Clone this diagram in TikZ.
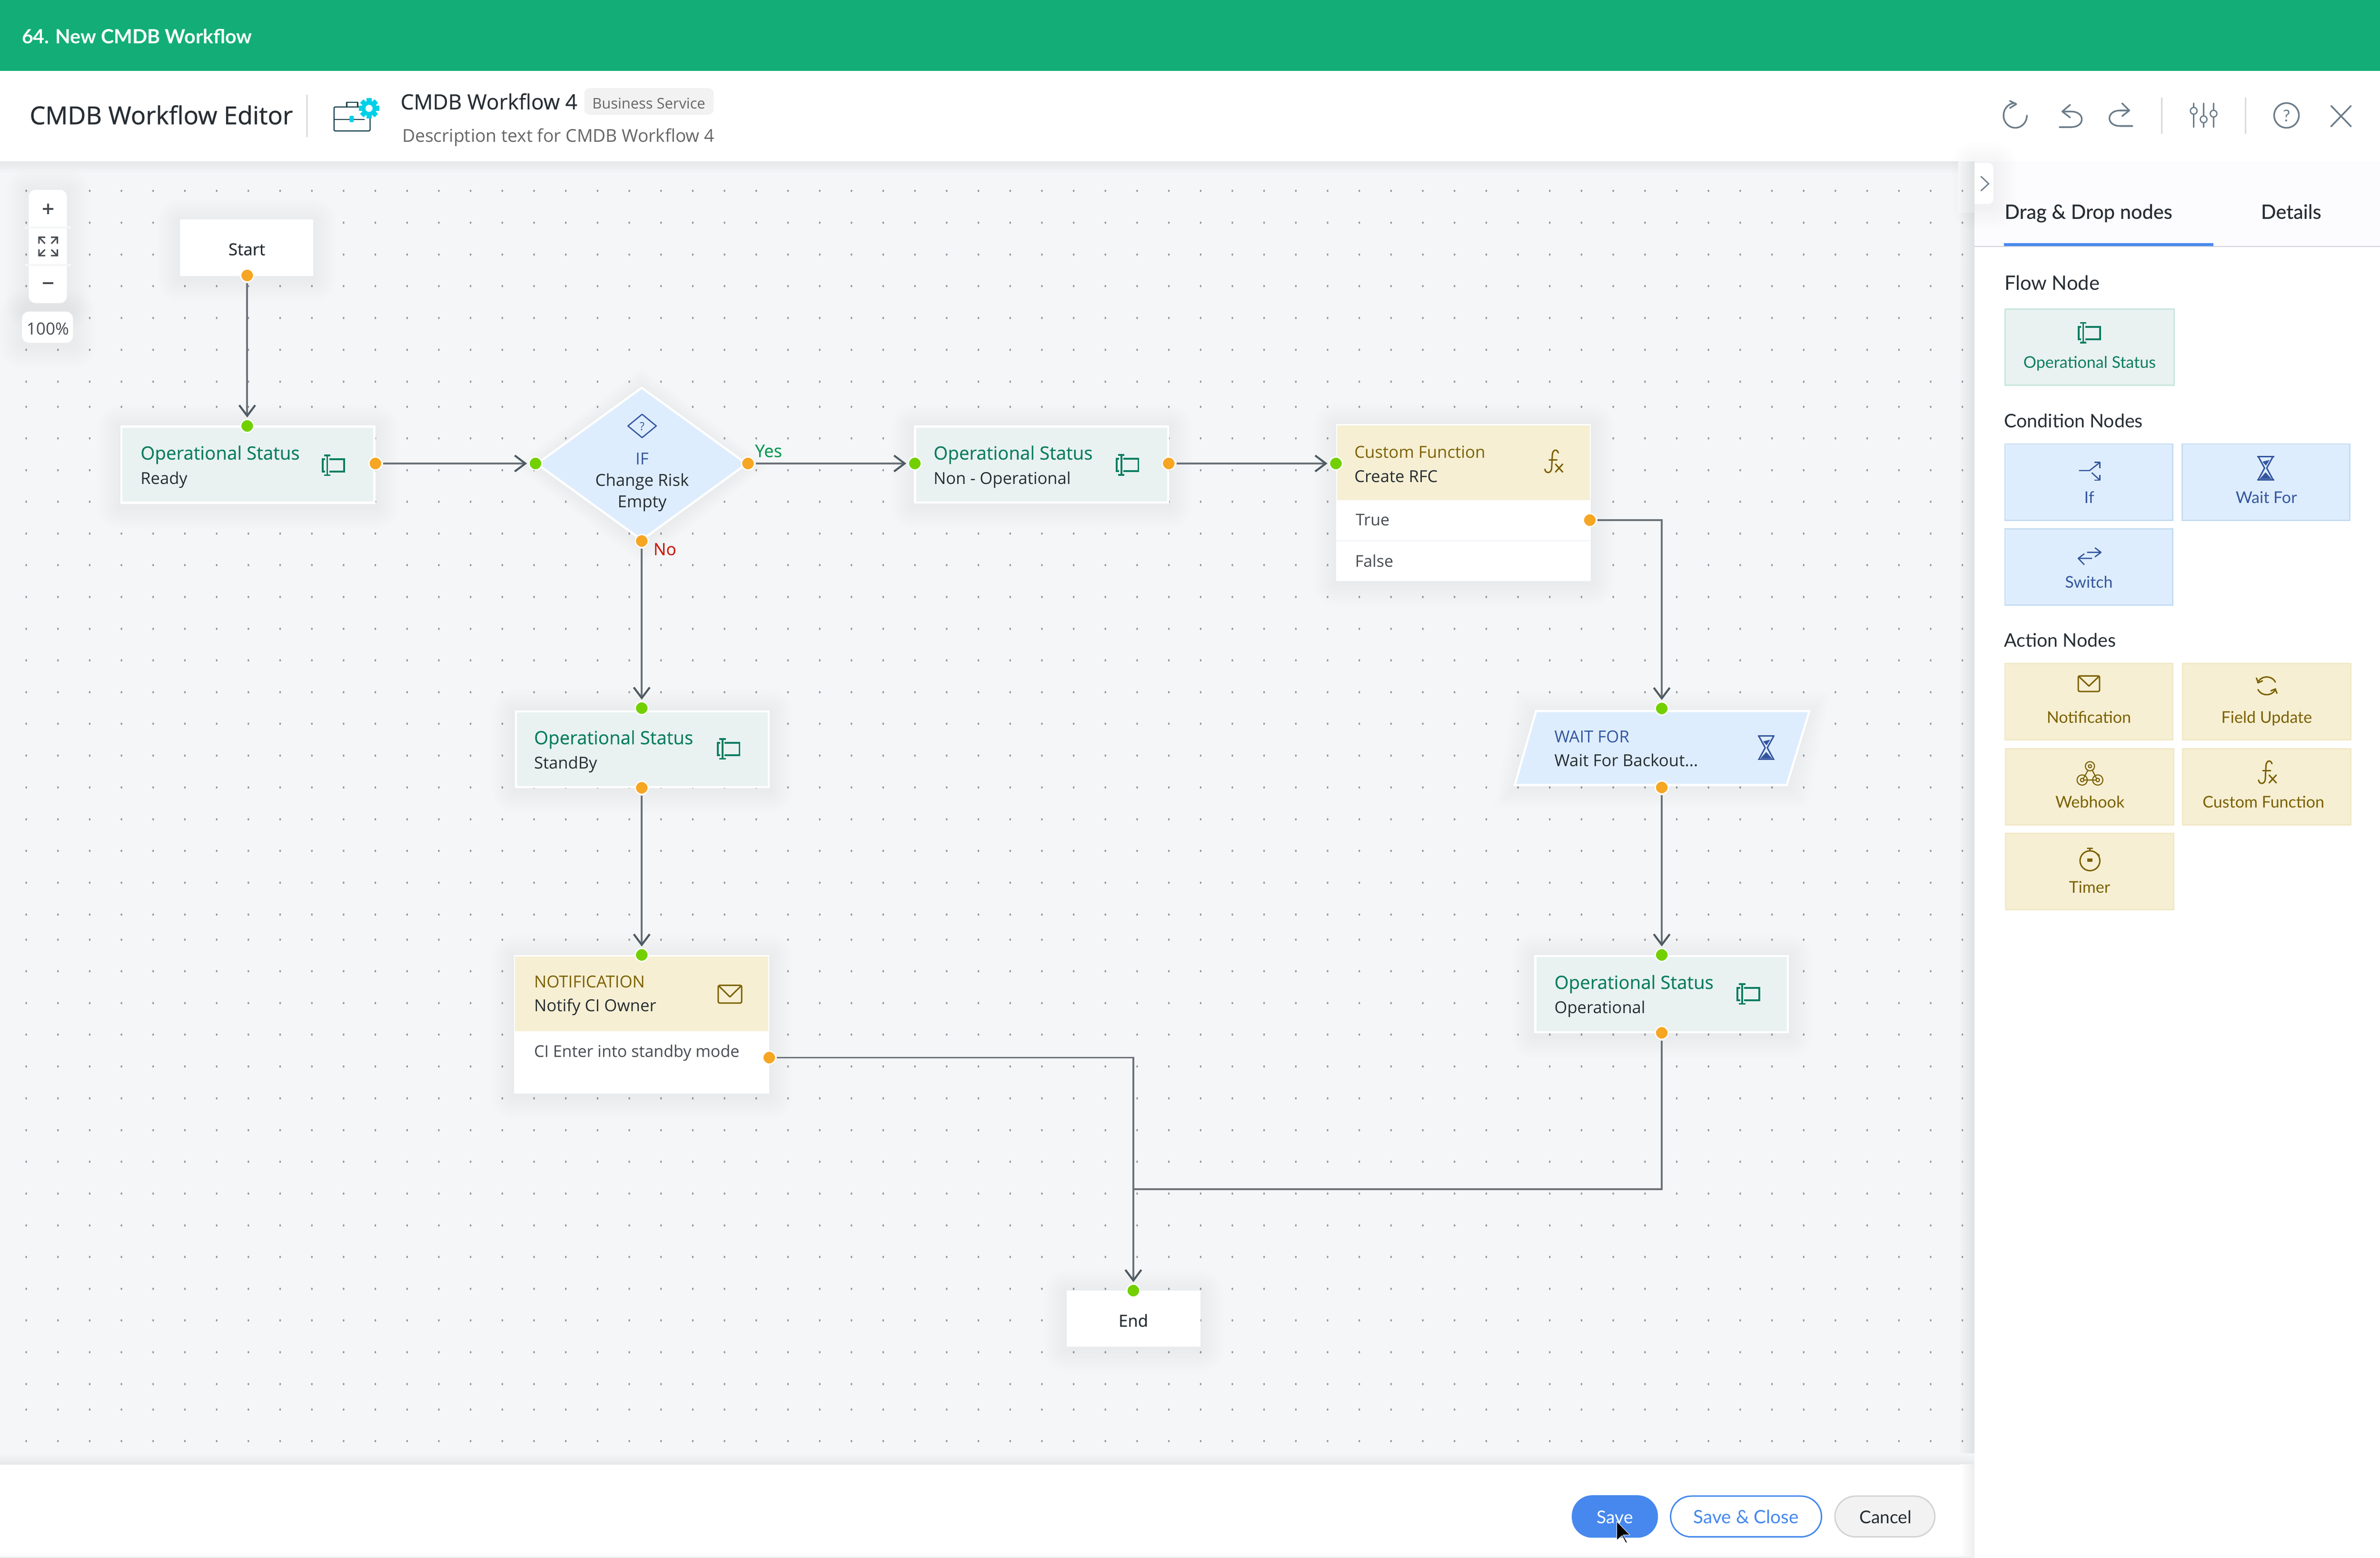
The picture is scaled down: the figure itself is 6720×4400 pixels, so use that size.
\documentclass[tikz,border=0pt]{standalone}
\usepackage{fontspec}
\usetikzlibrary{arrows.meta,shapes.geometric}
\setmainfont{Open Sans}
\newfontfamily\osr{Open Sans}
\newfontfamily\osm[FakeBold=0.3]{Open Sans}
\newfontfamily\oss[FakeBold=0.7]{Open Sans}
\newfontfamily\lat{Lato}
\newfontfamily\latm[FakeBold=0.35]{Lato}
\newcommand{\fsz}[1]{\fontsize{#1pt}{#1pt}\selectfont}
\definecolor{barc}{HTML}{13AE78}
\definecolor{canvasc}{HTML}{F4F6F8}
\definecolor{dotc}{HTML}{96999E}
\definecolor{ink}{HTML}{262D33}
\definecolor{teal}{HTML}{0B7D62}
\definecolor{opfill}{HTML}{E9F2F0}
\definecolor{opline}{HTML}{C9E6DF}
\definecolor{bluefill}{HTML}{DEEDFD}
\definecolor{blueline}{HTML}{C5DCF3}
\definecolor{bluetx}{HTML}{3456A0}
\definecolor{yelfill}{HTML}{F6EFD3}
\definecolor{yelline}{HTML}{F1E8C6}
\definecolor{yeltx}{HTML}{7B6100}
\definecolor{conc}{HTML}{6B7278}
\definecolor{arrc}{HTML}{4E5A62}
\definecolor{iconc}{HTML}{6A7B88}
\definecolor{gportc}{HTML}{72D000}
\definecolor{oportc}{HTML}{F6A623}
\definecolor{btnblue}{HTML}{4688EE}
\definecolor{cyanc}{HTML}{00D0E8}
\definecolor{caseline}{HTML}{0F3D4A}
\definecolor{yesc}{HTML}{0E9A55}
\definecolor{noc}{HTML}{CC1B0E}
\tikzset{
 lbl/.style={inner sep=0,outer sep=0,anchor=base west},
 ctr/.style={inner sep=0,outer sep=0,anchor=base},
 gport/.style={circle,fill=gportc,draw=white,line width=.035cm,minimum size=.365cm,inner sep=0},
 oport/.style={circle,fill=oportc,draw=white,line width=.035cm,minimum size=.365cm,inner sep=0},
 connline/.style={draw=conc,line width=.05cm,shorten <=.22cm},
 conn/.style={connline,shorten >=.24cm,-{Straight Barb[length=.3cm,width=.45cm,line width=.055cm,color=arrc]}},
 opbox/.style={rectangle,fill=opfill,draw=white,line width=.06cm,inner sep=0},
 plainbox/.style={rectangle,fill=white,inner sep=0},
 card/.style={rectangle,line width=.04cm,inner sep=0,minimum width=4.74cm,minimum height=2.15cm},
 bluecard/.style={card,fill=bluefill,draw=blueline},
 yelcard/.style={card,fill=yelfill,draw=yelline},
 hic/.style={draw=iconc,line width=.045cm,line cap=round,line join=round},
 pillbtn/.style={rectangle,rounded corners=.58cm,inner sep=0,minimum height=1.15cm}
}
\newcommand{\softsh}[4]{\foreach \r in {6,12,...,66}{\fill[black,opacity=.005,rounded corners=\r*0.01cm] ({#1-\r},{#2-\r+6}) rectangle ({#3+\r},{#4+\r+6});}}
\newcommand{\opicon}[3]{\begin{scope}[shift={(#1,#2)},draw=#3,line width=.05cm]
 \draw (-18,-28)--(-18,28) (-27,-28)--(-9,-28) (-27,28)--(-9,28);
 \draw (-12,-17)--(30,-17)--(30,18)--(-12,18);
 \draw (-24,-17)--(-31,-17)--(-31,18)--(-24,18);
\end{scope}}
\newcommand{\fxicon}[3]{\begin{scope}[shift={(#1,#2)},draw=#3,line width=.04cm,line cap=round]
 \draw (14,-24) .. controls (10,-36) and (-2,-34) .. (-3,-18) -- (-5,20) .. controls (-6,34) and (-22,36) .. (-24,22);
 \draw (-12,-4)--(10,-4);
 \draw (6,8)--(26,30) (26,8)--(6,30);
\end{scope}}
\newcommand{\envicon}[5]{\begin{scope}[shift={(#1,#2)},draw=#5,line width=.04cm,line join=round]
 \draw[rounded corners=.04cm] (-#3,-#4) rectangle (#3,#4);
 \draw (-#3,-#4)--(0,{#4*.3})--(#3,-#4);
\end{scope}}
\newcommand{\hourglass}[3]{\begin{scope}[shift={(#1,#2)},draw=#3,line width=.04cm,line join=round]
 \draw (-24,-33)--(24,-33) (-24,33)--(24,33);
 \draw (-21,-33)--(-3,0)--(-21,33) (21,-33)--(3,0)--(21,33);
 \fill[#3] (-9,-18)--(11,-23)--(1,-7)--cycle;
 \fill[#3] (0,12)--(17,31)--(-17,31)--cycle;
\end{scope}}
\begin{document}
\begin{tikzpicture}[x=0.01cm,y=-0.01cm,every node/.append style={text=ink}]
\useasboundingbox (0,0) rectangle (6720,4400);
\fill[white] (0,0) rectangle (6720,4400);
\fill[barc] (0,0) rectangle (6720,200);
% canvas
\fill[canvasc] (0,456) rectangle (5575,4136);
\shade[left color=canvasc,right color=black!9!canvasc] (5530,456) rectangle (5575,4136);
\shade[top color=black!6!canvasc,bottom color=canvasc] (0,456) rectangle (5575,490);
\shade[top color=canvasc,bottom color=black!6!canvasc] (0,4105) rectangle (5575,4136);
\fill[dotc] \foreach \i in {0,...,61}{\foreach \yy in {539,629,719,808,898,988,1078,1149,1238,1328,1417,1507,1596,1686,1776,1865,1955,2044,2134,2224,2314,2403,2493,2583,2654,2743,2833,2922,3012,3102,3192,3281,3371,3461,3550,3640,3729,3819,3909,3981,4070}{({74+89.62*\i},\yy) circle[x radius=.024cm,y radius=.034cm]}};
% panel
\fill[white] (5575,456) rectangle (6720,4400);
\fill[blue!1!white] (5575,456) rectangle (6720,696);
\shade[left color=white,right color=black!7!white] (5535,4136) rectangle (5575,4396);
\fill[black!6!white] (0,4396) rectangle (5575,4400);
\draw[blue!20!black!18!white,line width=.02cm] (5575,696)--(6720,696);
\fill[btnblue] (5658,687) rectangle (6250,695);
% panel toggle
\softsh{5575}{460}{5628}{576}
\fill[white,rounded corners=.15cm] (5540,460) rectangle (5628,576);
\shade[left color=canvasc,right color=black!9!canvasc] (5530,456) rectangle (5575,600);
\fill[dotc] ({74+89.62*61},539) circle[x radius=.024cm,y radius=.034cm];
\draw[iconc,line width=.035cm] (5593,498)--(5615,519)--(5593,539);
% header
\node[lbl,text=white] (title) at (62,123) {\lat\bfseries\fsz{15.7}64. New CMDB Workflow};
\node[lbl] (editor) at (84,351) {\oss\fsz{19.9}CMDB Workflow Editor};
\draw[black!20,line width=.03cm] (867,268)--(867,387);
\begin{scope}[draw=caseline,line width=.03cm,line join=round]
 \draw[rounded corners=.04cm] (943,302) rectangle (1045,370);
 \draw (979,302)--(979,289)--(1010,289)--(1010,302);
 \draw (943,337)--(1030,337);
 \fill[cyanc,rounded corners=.03cm] (987,327) rectangle (999,345);
\end{scope}
\fill[white] (1015,277) rectangle (1075,335);
\foreach \a in {0,45,...,315}{\fill[cyanc,rotate around={\a:(1042,306)}] (1035,277) rectangle (1049,290);}
\fill[cyanc] (1042,306) circle[radius=.21cm];
\fill[white] (1042,306) circle[radius=.10cm];
\node[lbl] (wfname) at (1131,309) {\osm\fsz{16.9}CMDB Workflow 4};
\node[rectangle,fill=black!5,rounded corners=.15cm,minimum width=3.65cm,minimum height=.75cm,inner sep=0] (badge) at (1832.5,286.5) {};
\node[ctr,text=black!60] (badgetx) at (1832,307) {\osr\fsz{11.8}Business Service};
\node[lbl,text=black!60] (desc) at (1136,401) {\osr\fsz{14.2}Description text for CMDB Workflow 4};
% header right icons
\draw[hic] plot[domain=0:268,samples=40] ({5690+33*cos(\x)},{326+35*sin(\x)});
\draw[hic] (5675,285)--(5693,294)--(5675,305);
\draw[hic] (5845,296)--(5823,315)--(5845,332);
\draw[hic] (5823,315)--(5848,315) .. controls (5888,315) and (5888,359) .. (5848,359) -- (5815,359);
\draw[hic] (5992,292)--(6012,312)--(5992,328);
\draw[hic] (6012,312)--(5986,312) .. controls (5946,312) and (5946,356) .. (5986,356) -- (6021,356);
\draw[blue!15!black!15!white,line width=.035cm] (6104,275)--(6104,377) (6340,275)--(6340,377);
\draw[hic] (6194,292)--(6194,303) (6194,323)--(6194,359) (6222,292)--(6222,327) (6222,347)--(6222,359) (6250,292)--(6250,311) (6250,331)--(6250,359);
\draw[hic,line width=.035cm] (6194,313) circle[radius=.095cm] (6222,337) circle[radius=.095cm] (6250,321) circle[radius=.095cm];
\draw[hic] (6456,326) circle[radius=.35cm];
\node[ctr,text=iconc] (helpq) at (6456,343) {\lat\fsz{13}?};
\draw[hic] (6582,299)--(6638,357) (6638,299)--(6582,357);
% zoom widget
\softsh{81}{536}{189}{856}
\softsh{62}{880}{206}{968}
\fill[white,rounded corners=.2cm] (81,536) rectangle (189,856);
\draw[canvasc,line width=.05cm] (70,642)--(200,642) (70,749)--(200,749);
\draw[ink!85,line width=.05cm] (121,590)--(151,590) (136,575)--(136,605) (121,800)--(151,800);
\begin{scope}[draw=ink!85,line width=.04cm]
 \draw (110,688)--(110,670)--(128,670) (110,670)--(127,688);
 \draw (162,688)--(162,670)--(144,670) (162,670)--(145,688);
 \draw (110,704)--(110,722)--(128,722) (110,722)--(127,705);
 \draw (162,704)--(162,722)--(144,722) (162,722)--(145,705);
\end{scope}
\node[rectangle,fill=white,rounded corners=.2cm,minimum width=1.44cm,minimum height=.88cm,inner sep=0] (zoompct) at (134,924) {};
\node[ctr,text=ink!85] (zoomtx) at (135,945) {\osr\fsz{13.4}100\%};
% --- flow nodes
\softsh{508}{620}{884}{780}
\node[plainbox,minimum width=3.76cm,minimum height=1.6cm] (start) at (696,700) {};
\node[ctr] (starttx) at (697,721) {\osm\fsz{13.3}Start};
\softsh{340}{1202}{1060}{1423}
\node[opbox,minimum width=7.14cm,minimum height=2.15cm] (ready) at (700,1312.5) {};
\node[lbl,text=teal] (readyt) at (397,1298) {\osm\fsz{14.7}Operational Status};
\node[lbl] (readys) at (397,1367) {\osr\fsz{13.2}Ready};
\opicon{942}{1314}{teal}
% diamond
\foreach \r in {6,12,...,60}{\fill[black,opacity=.005,line join=round] (1812,{1091-\r+6})--({2112+\r},{1310+6})--(1812,{1529+\r+6})--({1512-\r},{1310+6})--cycle;}
\node[diamond,aspect=1.37,fill=bluefill,draw=white,line width=.06cm,minimum width=5.94cm,minimum height=4.32cm,inner sep=0] (ifbox) at (1812,1310) {};
\draw[bluetx,line width=.035cm,line join=round] (1813,1170)--(1853,1203)--(1813,1236)--(1773,1203)--cycle;
\node[ctr,text=bluetx] (ifq) at (1813,1215) {\osr\fsz{9}?};
\node[ctr,text=bluetx] (ift) at (1813,1313) {\osr\fsz{13.3}IF};
\node[ctr] (ifa) at (1813,1373) {\osr\fsz{13.3}Change Risk};
\node[ctr] (ifb) at (1813,1433) {\osr\fsz{13.3}Empty};
\node[lbl,text=yesc] (yes) at (2132,1291) {\osm\fsz{14}Yes};
\node[lbl,text=noc] (no) at (1845,1568) {\osm\fsz{13.5}No};
% non-op
\softsh{2581}{1202}{3301}{1422}
\node[opbox,minimum width=7.14cm,minimum height=2.14cm] (nonop) at (2941,1312) {};
\node[lbl,text=teal] (nonopt) at (2636,1298) {\osm\fsz{14.7}Operational Status};
\node[lbl] (nonops) at (2636,1367) {\osr\fsz{13.2}Non - Operational};
\opicon{3184}{1313}{teal}
% custom function
\softsh{3773}{1198}{4492}{1641}
\node[plainbox,minimum width=7.19cm,minimum height=4.43cm] (cfbox) at (4132.5,1419.5) {};
\node[rectangle,fill=yelfill,inner sep=0,minimum width=7.13cm,minimum height=2.11cm] (cfhead) at (4132.5,1306.5) {};
\fill[canvasc] (3773,1525) rectangle (4492,1529);
\node[lbl,text=yeltx] (cft) at (3824,1293) {\osr\fsz{13.3}Custom Function};
\node[lbl] (cfs) at (3824,1362) {\osr\fsz{13.2}Create RFC};
\node[lbl,text=ink!85] (cftrue) at (3828,1485) {\osr\fsz{13}True};
\node[lbl,text=ink!85] (cffalse) at (3826,1601) {\osr\fsz{13}False};
\fxicon{4386}{1303}{yeltx}
% wait for
\foreach \r in {6,12,...,60}{\fill[black,opacity=.005] ({4337-\r},{2008-\r+6})--({5109+\r},{2008-\r+6})--({5045+\r},{2217+\r+6})--({4277-\r},{2217+\r+6})--cycle;}
\draw[fill=bluefill,draw=white,line width=.06cm] (4337,2008)--(5109,2008)--(5045,2217)--(4277,2217)--cycle;
\node[lbl,text=bluetx] (waitt) at (4389,2097) {\osr\fsz{13.3}WAIT FOR};
\node[lbl] (waits) at (4389,2165) {\osr\fsz{13.3}Wait For Backout...};
\hourglass{4987}{2112}{bluetx}
% standby
\softsh{1454}{2006}{2173}{2226}
\node[opbox,minimum width=7.13cm,minimum height=2.14cm] (standby) at (1813.5,2116) {};
\node[lbl,text=teal] (standbyt) at (1508,2102) {\osm\fsz{14.7}Operational Status};
\node[lbl] (standbys) at (1508,2171) {\osr\fsz{13.2}StandBy};
\opicon{2058}{2115}{teal}
% notification
\softsh{1452}{2698}{2172}{3089}
\node[plainbox,minimum width=7.2cm,minimum height=3.91cm] (notifbox) at (1812,2893.5) {};
\node[rectangle,fill=yelfill,inner sep=0,minimum width=7.14cm,minimum height=2.12cm] (notifhead) at (1812,2807) {};
\node[lbl,text=yeltx] (notift) at (1508,2789) {\osr\fsz{13.3}NOTIFICATION};
\node[lbl] (notifs) at (1508,2857) {\osr\fsz{13.3}Notify CI Owner};
\node[lbl,text=ink!85] (notifr) at (1508,2986) {\osr\fsz{13}CI Enter into standby mode};
\envicon{2061}{2808}{33}{25}{yeltx}
% operational
\softsh{4332}{2697}{5051}{2918}
\node[opbox,minimum width=7.13cm,minimum height=2.15cm] (oper) at (4691.5,2807.5) {};
\node[lbl,text=teal] (opert) at (4389,2793) {\osm\fsz{14.7}Operational Status};
\node[lbl] (opers) at (4389,2862) {\osr\fsz{13.2}Operational};
\opicon{4937}{2807}{teal}
% end
\softsh{3012}{3645}{3389}{3804}
\node[plainbox,minimum width=3.77cm,minimum height=1.59cm] (endbox) at (3200.5,3724.5) {};
\node[ctr] (endtx) at (3200,3747) {\osm\fsz{13.3}End};
% ports
\node[oport] (p-start) at (698,778) {};
\node[gport] (p-readyin) at (698,1203) {};
\node[oport] (p-readyout) at (1060,1309) {};
\node[gport] (p-ifin) at (1512,1309) {};
\node[oport] (p-ifyes) at (2112,1309) {};
\node[oport] (p-ifno) at (1812,1528) {};
\node[gport] (p-nonin) at (2583,1309) {};
\node[oport] (p-nonout) at (3300,1309) {};
\node[gport] (p-cfin) at (3772,1309) {};
\node[oport] (p-cftrue) at (4489,1469) {};
\node[gport] (p-waitin) at (4692,2001) {};
\node[oport] (p-waitout) at (4692,2224) {};
\node[gport] (p-standin) at (1812,2000) {};
\node[oport] (p-standout) at (1812,2225) {};
\node[gport] (p-notifin) at (1812,2697) {};
\node[oport] (p-notifout) at (2172,2987) {};
\node[gport] (p-operin) at (4692,2697) {};
\node[oport] (p-operout) at (4692,2917) {};
\node[gport] (p-end) at (3200,3645) {};
\coordinate (join) at (3200,3359);
% connectors
\draw[conn] (p-start.center)--(p-readyin.center);
\draw[conn] (p-readyout.center)--(p-ifin.center);
\draw[conn] (p-ifyes.center)--(p-nonin.center);
\draw[conn] (p-nonout.center)--(p-cfin.center);
\draw[conn] (p-ifno.center)--(p-standin.center);
\draw[conn] (p-standout.center)--(p-notifin.center);
\draw[conn] (p-cftrue.center)-|(p-waitin.center);
\draw[conn] (p-waitout.center)--(p-operin.center);
\draw[conn] (p-notifout.center)-|(p-end.center);
\draw[connline] (p-operout.center)|-(join);
% right panel
\node[lbl] (tab1) at (5660,618) {\latm\fsz{15.9}Drag \& Drop nodes};
\node[ctr] (tab2) at (6469,618) {\latm\fsz{15.9}Details};
\node[lbl] (hflow) at (5660,819) {\lat\fsz{15.9}Flow Node};
\node[lbl] (hcond) at (5659,1207) {\lat\fsz{15}Condition Nodes};
\node[lbl] (hact) at (5659,1827) {\lat\fsz{15}Action Nodes};
\node[rectangle,fill=opfill,draw=opline,line width=.04cm,inner sep=0,minimum width=4.76cm,minimum height=2.15cm] (cflow) at (5900,980.5) {};
\opicon{5900}{940}{teal}
\node[ctr,text=teal] (cflowt) at (5900,1039) {\lat\fsz{13}Operational Status};
\node[bluecard] (cif) at (5898,1361.5) {};
\node[bluecard] (cwait) at (6398,1361.5) {};
\node[bluecard] (cswitch) at (5898,1601) {};
\node[yelcard] (cnot) at (5898,1981.5) {};
\node[yelcard] (cfield) at (6400,1981.5) {};
\node[yelcard] (cweb) at (5900,2222) {};
\node[yelcard] (ccf) at (6400,2222) {};
\node[yelcard] (ctimer) at (5900,2461) {};
\node[ctr,text=bluetx] at (5899,1421) (lif) {\lat\fsz{13}If};
\node[ctr,text=bluetx] at (6399,1421) (lwait) {\lat\fsz{13}Wait For};
\node[ctr,text=bluetx] at (5898,1661) (lswitch) {\lat\fsz{13}Switch};
\node[ctr,text=yeltx] at (5898,2042) (lnot) {\lat\fsz{13}Notification};
\node[ctr,text=yeltx] at (6400,2042) (lfield) {\lat\fsz{13}Field Update};
\node[ctr,text=yeltx] at (5901,2282) (lweb) {\lat\fsz{13}Webhook};
\node[ctr,text=yeltx] at (6391,2282) (lcf) {\lat\fsz{13}Custom Function};
\node[ctr,text=yeltx] at (5900,2522) (ltimer) {\lat\fsz{13}Timer};
% panel icons
\begin{scope}[draw=bluetx,line width=.035cm,line join=round]
 \draw (5870,1329)--(5900,1329)--(5929,1306);
 \draw (5914,1306)--(5929,1306)--(5929,1323);
 \draw (5906,1335)--(5929,1356);
 \draw (5913,1356)--(5929,1356)--(5929,1341);
 \draw (5893,1560)--(5932,1560) (5915,1547)--(5932,1560)--(5915,1573);
 \draw (5868,1577)--(5907,1577) (5885,1564)--(5868,1577)--(5885,1595);
\end{scope}
\hourglass{6397}{1322}{bluetx}
\envicon{5898}{1931}{30}{22}{yeltx}
\begin{scope}[draw=yeltx,line width=.04cm,line cap=round,line join=round]
 \draw plot[domain=200:335,samples=20] ({6400+27*cos(\x)},{1937+25*sin(\x)});
 \draw plot[domain=20:155,samples=20] ({6400+27*cos(\x)},{1937+25*sin(\x)});
 \draw (6371,1915)--(6376,1928)--(6388,1923);
 \draw (6429,1958)--(6424,1946)--(6412,1951);
 \begin{scope}[line width=.03cm]
 \draw (5901,2164) circle[radius=.13cm] (5901,2164) circle[radius=.045cm];
 \draw (5879,2203) circle[radius=.145cm] (5879,2203) circle[radius=.05cm];
 \draw (5923,2203) circle[radius=.145cm] (5923,2203) circle[radius=.05cm];
 \draw (5895,2176)--(5883,2198) (5884,2203)--(5918,2203) (5908,2176)--(5919,2198);
 \end{scope}
 \draw (5901,2431) circle[radius=.28cm];
 \draw (5894,2396)--(5908,2396) (5901,2396)--(5901,2403) (5921,2411)--(5927,2416);
 \fill[yeltx] (5894,2425) rectangle (5908,2434);
\end{scope}
\fxicon{6401}{2181}{yeltx}
% footer buttons
\node[pillbtn,fill=btnblue,minimum width=2.43cm,minimum height=1.2cm] (bsave) at (4559.5,4283) {};
\node[pillbtn,fill=white,draw=btnblue,line width=.04cm,minimum width=4.26cm] (bclose) at (4930,4283) {};
\node[pillbtn,fill=black!5,draw=black!17,line width=.04cm,minimum width=2.82cm] (bcancel) at (5322,4283) {};
\node[ctr,text=white] (lsave) at (4560,4303) {\lat\fsz{14.2}Save};
\node[ctr,text=btnblue] (lclose) at (4930,4303) {\lat\fsz{14.8}Save \& Close};
\node[ctr] (lcancel) at (5324,4303) {\lat\fsz{14.2}Cancel};
% cursor
\fill[black,draw=white,line width=.012cm,line join=round] (4565,4297)--(4565,4350)--(4580,4337)--(4590,4357)--(4595,4357)--(4583,4335)--(4602,4335)--cycle;
\end{tikzpicture}
\end{document}
